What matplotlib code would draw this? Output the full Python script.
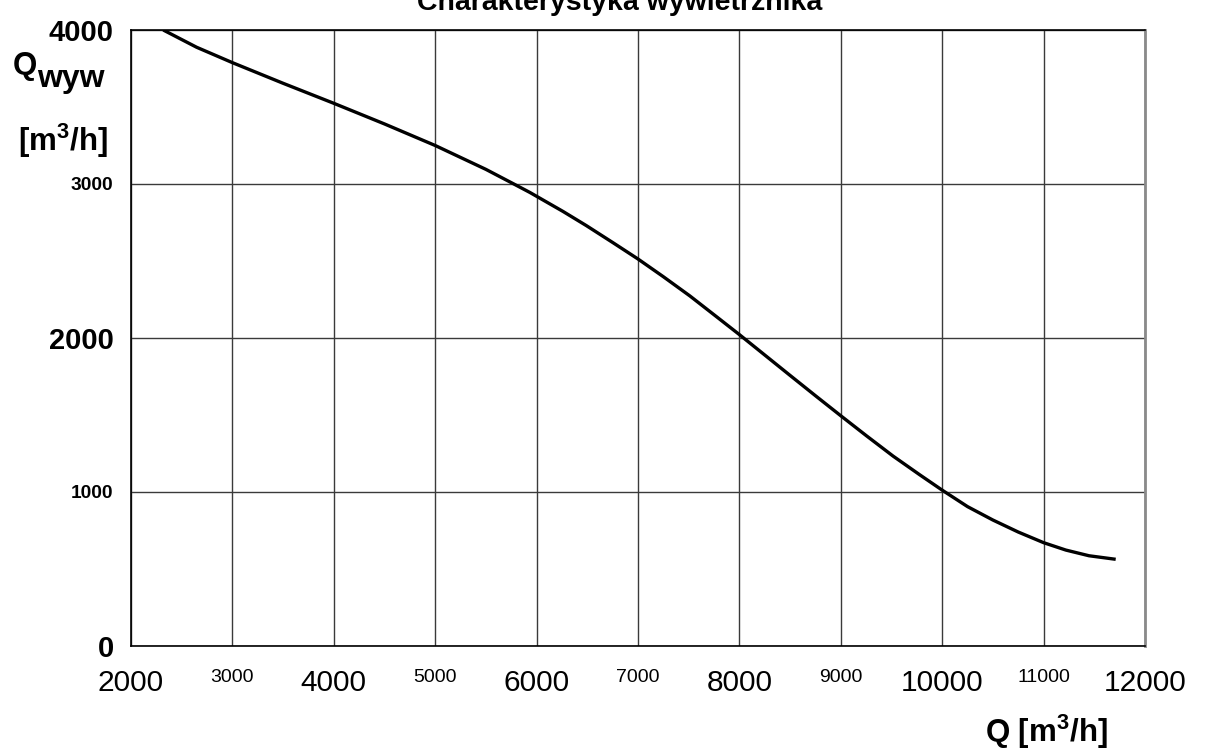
import matplotlib
matplotlib.use("Agg")
import matplotlib.pyplot as plt

plt.rcParams['font.family'] = ['Liberation Sans', 'DejaVu Sans']
plt.rcParams['mathtext.fontset'] = 'custom'
plt.rcParams['mathtext.rm'] = 'Liberation Sans'
plt.rcParams['mathtext.bf'] = 'Liberation Sans:bold'
plt.rcParams['mathtext.it'] = 'Liberation Sans:italic'

# data
q_flow = [2318, 2647, 3000, 3500, 4000, 4500, 5000, 5500, 5767, 5934, 6260,
          6490, 6753, 7000, 7250, 7512, 7775, 8000, 8234, 8498, 8760, 9000,
          9253, 9516, 9778, 10000, 10250, 10500, 10750, 11000, 11219, 11448,
          11711]
q_wyw = [4000, 3888, 3788, 3654, 3524, 3390, 3250, 3095, 3003, 2945, 2822,
         2730, 2619, 2513, 2398, 2273, 2138, 2022, 1898, 1758, 1620, 1495,
         1365, 1233, 1112, 1012, 905, 818, 740, 671, 623, 586,
         563]

x_major = [2000, 4000, 6000, 8000, 10000, 12000]
x_minor = [3000, 5000, 7000, 9000, 11000]
y_major = [0, 2000, 4000]
y_minor = [1000, 3000]

title = "Charakterystyka wywietrznika"

W, H = 1207, 752
fig = plt.figure(figsize=(W / 100, H / 100), dpi=100)
L, R, T, B = 131, 1145, 30, 646
ax = fig.add_axes([L / W, (H - B) / H, (R - L) / W, (B - T) / H])

ax.plot(q_flow, q_wyw, color='black', lw=2.4, solid_capstyle='butt',
        solid_joinstyle='round', zorder=3)

ax.set_xlim(2000, 12000)
ax.set_ylim(0, 4000)

ax.set_xticks(x_major, [str(v) for v in x_major])
ax.set_xticks(x_minor, [str(v) for v in x_minor], minor=True)
ax.set_yticks(y_major, [str(v) for v in y_major])
ax.set_yticks(y_minor, [str(v) for v in y_minor], minor=True)

ax.tick_params(axis='both', which='both', length=0)
ax.tick_params(axis='x', which='major', labelsize=21.5, pad=32.5)
ax.tick_params(axis='x', which='minor', labelsize=14, pad=26)
ax.tick_params(axis='y', which='major', labelsize=21, pad=12.5)
ax.tick_params(axis='y', which='minor', labelsize=13.8, pad=13)

for lab in ax.get_xticklabels(which='both'):
    lab.set_verticalalignment('baseline')
for lab in ax.get_yticklabels(which='both'):
    lab.set_fontweight('bold')

ax.grid(True, which='both', color='#3a3a3a', lw=1.0)
ax.set_axisbelow(True)

for s in ['left', 'bottom', 'top']:
    ax.spines[s].set_color('black')
    ax.spines[s].set_linewidth(1.2)
ax.spines['right'].set_color('#8a8a8a')
ax.spines['right'].set_linewidth(2.0)

# title (partially cut at top in the reference)
fig.text(620 / W, 1 - 10 / H, title, ha='center', va='baseline',
         fontsize=20.5, fontweight='bold')

# y-axis label
fig.text(13 / W, 1 - 74 / H, 'Q', ha='left', va='baseline',
         fontsize=22.5, fontweight='bold')
fig.text(37 / W, 1 - 87 / H, 'wyw', ha='left', va='baseline',
         fontsize=23, fontweight='bold')
fig.text(18 / W, 1 - 151 / H, r'$\mathbf{[m^3/h]}$', ha='left', va='baseline',
         fontsize=22.5)

# x-axis label
fig.text(1108 / W, 1 - 742 / H, r'$\mathbf{Q\ [m^3/h]}$', ha='right',
         va='baseline', fontsize=22.5)

fig.savefig('out.png', dpi=100, facecolor='white')
